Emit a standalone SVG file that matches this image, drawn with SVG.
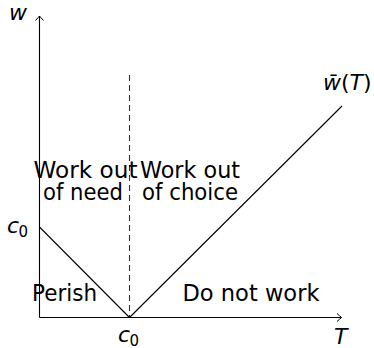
<svg xmlns="http://www.w3.org/2000/svg" width="374" height="348" viewBox="0 0 374 348">
<style>
.ln{stroke:#000;stroke-width:1.1;fill:none}
.dash{stroke:#333;stroke-width:1.1;stroke-dasharray:6 4;fill:none}
.lbl{font-family:"DejaVu Sans",sans-serif;font-size:23px;fill:#000}
.m{font-family:"DejaVu Sans",sans-serif;font-style:italic;font-size:22px;fill:#000}
.up{font-style:normal}
.sub{font-family:"DejaVu Sans",sans-serif;font-size:15px;fill:#000}
</style>
<defs>
<marker id="arr" viewBox="-6 -6 8 12" markerWidth="8" markerHeight="12" refX="0" refY="0" orient="auto" markerUnits="userSpaceOnUse">
<path d="M-4.5,-4 Q-1.5,-1.2 0,0 Q-1.5,1.2 -4.5,4" stroke="#000" stroke-width="1" fill="none"/>
</marker>
</defs>
<rect width="374" height="348" fill="#fff"/>
<g id="connectors">
<line class="ln" x1="39.5" y1="317.5" x2="39.5" y2="16" marker-end="url(#arr)"/>
<line class="ln" x1="39.5" y1="317.5" x2="341.5" y2="317.5" marker-end="url(#arr)"/>
<line class="dash" x1="129.5" y1="75" x2="129.5" y2="317.5"/>
<line class="ln" x1="39.5" y1="227" x2="129.5" y2="317.5"/>
<line class="ln" x1="129.5" y1="317.5" x2="342" y2="106"/>
</g>
<g id="axis-w"><text class="m" x="9" y="20">w</text></g>
<g id="axis-T"><text class="m" x="334" y="344">T</text></g>
<g id="c0-left"><text class="m" x="7" y="233">c</text><text class="sub" x="18.5" y="237">0</text></g>
<g id="c0-bottom"><text class="m" x="118" y="342">c</text><text class="sub" x="129.5" y="346">0</text></g>
<g id="wbar"><text class="m" x="323" y="90">w̄<tspan class="up">(</tspan>T<tspan class="up">)</tspan></text></g>
<g id="work-need"><text class="lbl" text-anchor="middle" x="85.5" y="178" textLength="104" lengthAdjust="spacingAndGlyphs">Work out</text><text class="lbl" text-anchor="middle" x="83" y="200" textLength="80" lengthAdjust="spacingAndGlyphs">of need</text></g>
<g id="work-choice"><text class="lbl" text-anchor="middle" x="190" y="178" textLength="100" lengthAdjust="spacingAndGlyphs">Work out</text><text class="lbl" text-anchor="middle" x="190" y="200" textLength="96" lengthAdjust="spacingAndGlyphs">of choice</text></g>
<g id="perish"><text class="lbl" x="32" y="301" textLength="65" lengthAdjust="spacingAndGlyphs">Perish</text></g>
<g id="donotwork"><text class="lbl" x="182.5" y="301" textLength="137" lengthAdjust="spacingAndGlyphs">Do not work</text></g>
</svg>
